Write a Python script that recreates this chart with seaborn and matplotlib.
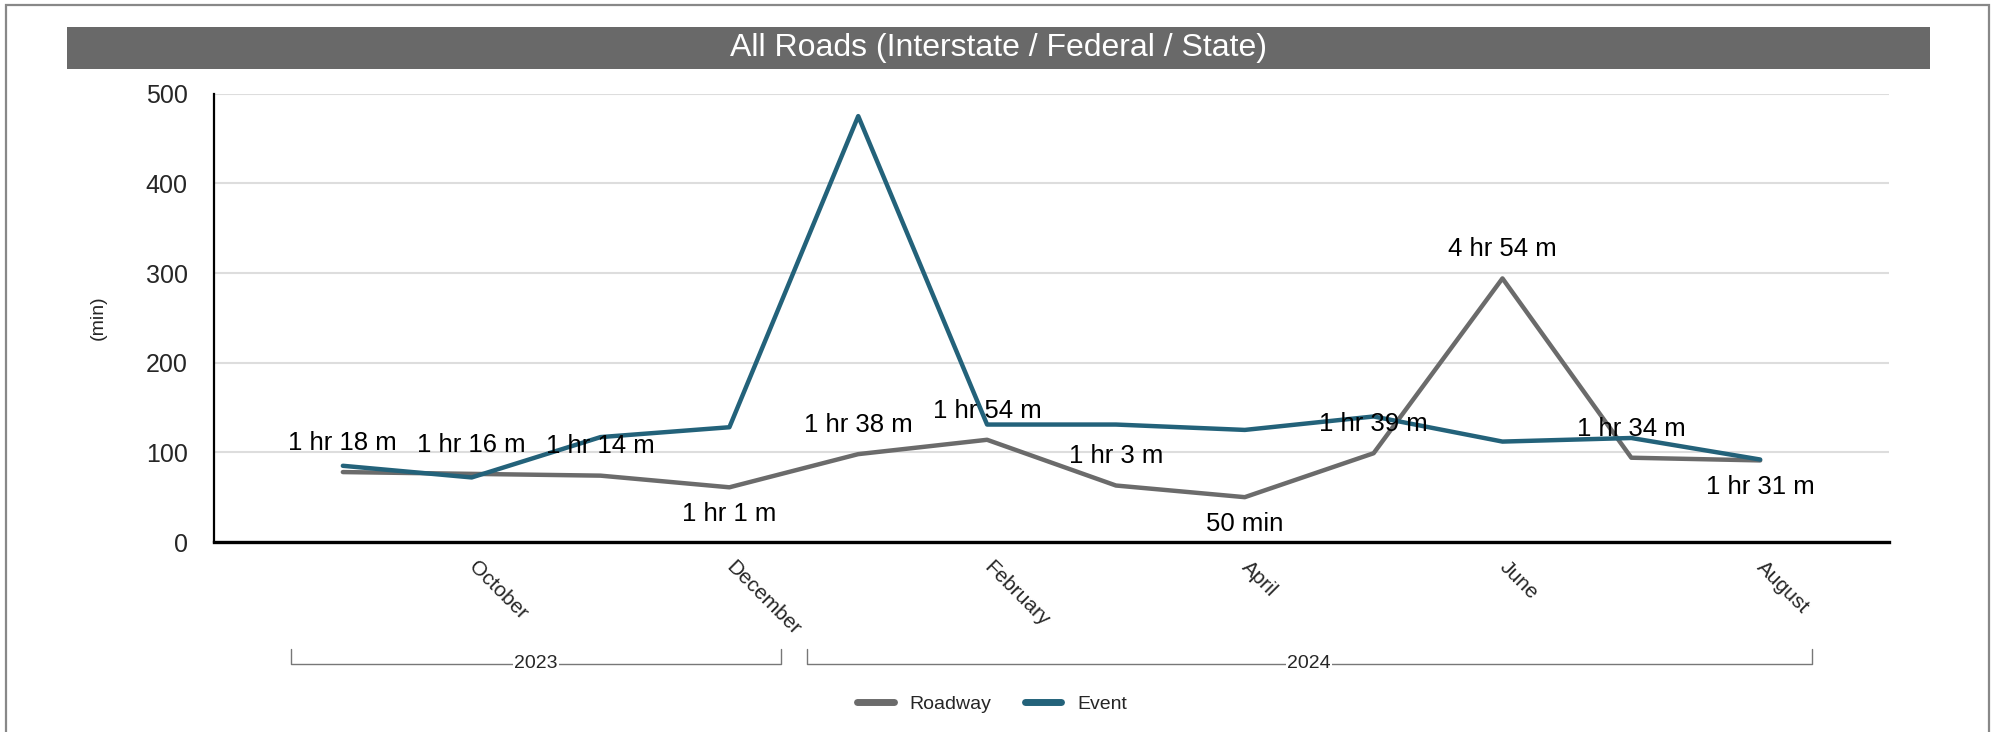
"""
Monthly average clearance time, all roads, roadway vs event.
"""

# %%
import numpy as np
import pandas as pd
import matplotlib
matplotlib.use("Agg")
import matplotlib.pyplot as plt
import matplotlib.transforms as mtransforms
from matplotlib.patches import Rectangle
import seaborn as sns

# %%
# Values (minutes)
months = ["September", "October", "November", "December", "January", "February",
          "March", "April", "May", "June", "July", "August"]
years = [2023, 2023, 2023, 2023, 2024, 2024, 2024, 2024, 2024, 2024, 2024, 2024]
roadway = [78, 76, 74, 61, 98, 114, 63, 50, 99, 294, 94, 91]
event = [85, 72, 117, 128, 475, 131, 131, 125, 140, 112, 116, 92]
series_names = ["Roadway", "Event"]
title = "All Roads (Interstate / Federal / State)"

x = np.arange(1, len(months) + 1)
df = pd.concat([
    pd.DataFrame({"x": x, "minutes": roadway, "series": "Roadway"}),
    pd.DataFrame({"x": x, "minutes": event, "series": "Event"}),
])


def fmt(m):
    if m < 60:
        return f"{m} min"
    return f"{m // 60} hr {m % 60} m"


# %%
sns.set_style("white")
plt.rcParams["font.family"] = ["Liberation Sans", "DejaVu Sans"]

fig = plt.figure(figsize=(19.96, 7.32), dpi=100)
ax = fig.add_axes([214 / 1996, 1 - 542 / 732, (1889 - 214) / 1996, (542 - 93.7) / 732])

colors = {"Roadway": "#6b6b6b", "Event": "#23627a"}
sns.lineplot(data=df, x="x", y="minutes", hue="series", hue_order=series_names,
             palette=colors, linewidth=3.2, ax=ax, legend=False)

ax.set_xlim(0, len(months) + 1)
ax.set_ylim(0, 500)
ax.set_yticks(range(0, 501, 100))
ax.tick_params(axis="y", labelsize=18, length=13, width=1, color="#999999", pad=6)
ax.yaxis.grid(True, color="#dddddd", linewidth=1.5)
ax.set_axisbelow(True)

xt = [0] + list(x[1::2])
ax.set_xticks(xt)
ax.set_xticklabels([""] + months[1::2], rotation=-45, ha="left", va="center",
                   rotation_mode="anchor")
ax.tick_params(axis="x", labelsize=15, length=5, width=1, color="#999999", pad=11)
ax.set_xlabel("")
ax.set_ylabel("(min)", fontsize=14)
ax.yaxis.set_label_coords(-0.064, 0.5)

for s in ["top", "right"]:
    ax.spines[s].set_visible(False)
ax.spines["left"].set_color("black")
ax.spines["left"].set_linewidth(1.6)
ax.spines["bottom"].set_color("black")
ax.spines["bottom"].set_linewidth(2.4)

# value labels on the roadway series: below at local minima, above otherwise
for i, v in enumerate(roadway):
    nb = [roadway[j] for j in (i - 1, i + 1) if 0 <= j < len(roadway)]
    below = all(v < n for n in nb)
    ax.annotate(fmt(v), (x[i], v), xytext=(0, -19 if below else 21),
                textcoords="offset points", ha="center", va="center",
                fontsize=18.5, color="black")

# year brackets under the month labels
trans = mtransforms.blended_transform_factory(ax.transData, ax.transAxes)
for yr in sorted(set(years)):
    idx = [x[i] for i in range(len(years)) if years[i] == yr]
    x0, x1 = min(idx) - 0.4, max(idx) + 0.4
    ax.plot([x0, x0, x1, x1], [-0.2387, -0.2721, -0.2721, -0.2387], transform=trans,
            color="#777777", linewidth=1, clip_on=False)
    ax.text((x0 + x1) / 2, -0.2721, str(yr), transform=trans, ha="center", va="center",
            fontsize=14, bbox=dict(facecolor="white", edgecolor="none", pad=1))

# legend at the bottom
handles = [plt.Line2D([], [], color=colors[n], linewidth=5) for n in series_names]
fig.legend(handles, series_names, loc="center", bbox_to_anchor=(0.497, 0.038), ncol=2,
           frameon=False, fontsize=14, handlelength=1.9, columnspacing=1.7)

# title bar and outer frame
fig.patches.append(Rectangle((67 / 1996, 1 - 69 / 732), (1930 - 67) / 1996, 42 / 732,
                             transform=fig.transFigure, facecolor="#696969",
                             edgecolor="none", zorder=0))
fig.text(0.5, 1 - 48 / 732, title, ha="center", va="center", color="white", fontsize=23)
fig.patches.append(Rectangle((6 / 1996, -0.05), (1989 - 6) / 1996, 1.05 - 5 / 732,
                             transform=fig.transFigure, facecolor="none",
                             edgecolor="#888888", linewidth=1.6, zorder=0))

plt.savefig("out.png", dpi=100)
